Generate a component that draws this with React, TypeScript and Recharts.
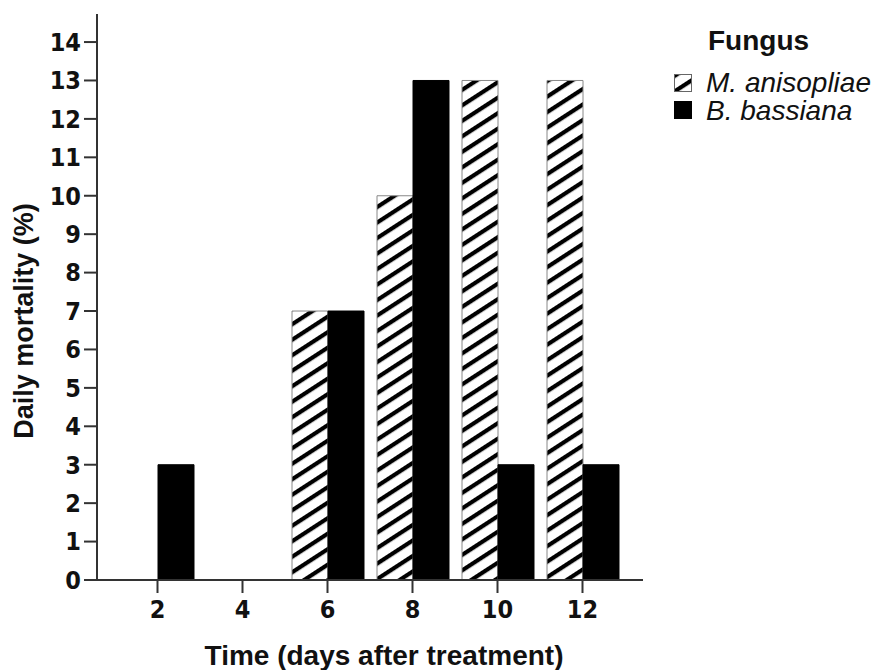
import React from "react"
import { BarChart, Bar, XAxis, YAxis } from "recharts"

const days = ["2", "4", "6", "8", "10", "12"]
const anisopliae = [0, 0, 7, 10, 13, 13]
const bassiana = [3, 0, 7, 13, 3, 3]
const yTicks = [0, 1, 2, 3, 4, 5, 6, 7, 8, 9, 10, 11, 12, 13, 14]

const data = days.map((day, i) => ({
  day,
  anisopliae: anisopliae[i],
  bassiana: bassiana[i],
}))

const font = "'Liberation Sans', Arial, sans-serif"
const narrow = "'Liberation Sans Narrow', 'Arial Narrow', 'DejaVu Sans Condensed', sans-serif"
const tickStyle = { fontFamily: narrow, fontWeight: 700, fontSize: 25, fill: "#111" }
const axisColor = "#333"

export default function App() {
  return (
    <div style={{ position: "absolute", left: 0, top: 0, width: 883, height: 670, background: "#fff" }}>
      <svg width={0} height={0} style={{ position: "absolute" }}>
        <defs>
          <pattern id="hatch" patternUnits="userSpaceOnUse" width={13} height={13} patternTransform="rotate(57)">
            <rect x={0} y={0} width={13} height={13} fill="#fff" />
            <rect x={0} y={0} width={4.2} height={13} fill="#000" />
          </pattern>
        </defs>
      </svg>
      <BarChart
        width={883}
        height={670}
        data={data}
        margin={{ top: 14, right: 240, bottom: 0, left: 37 }}
        barGap={0}
        barSize={36}
      >
        <XAxis
          dataKey="day"
          height={90}
          padding={{ left: 18, right: 18 }}
          tickSize={13}
          tickMargin={7}
          tick={tickStyle}
          axisLine={{ stroke: axisColor, strokeWidth: 2 }}
          tickLine={{ stroke: axisColor, strokeWidth: 2 }}
        />
        <XAxis xAxisId="top" dataKey="day" orientation="top" height={0} tick={false} tickLine={false}
          axisLine={{ stroke: axisColor, strokeWidth: 1.5 }} />
        <YAxis
          width={60}
          domain={[0, 14.73]}
          ticks={yTicks}
          allowDataOverflow
          tickSize={13}
          tickMargin={3}
          tick={tickStyle}
          axisLine={{ stroke: axisColor, strokeWidth: 2 }}
          tickLine={{ stroke: axisColor, strokeWidth: 2 }}
        />
        <YAxis yAxisId="right" orientation="right" width={0} tick={false} tickLine={false}
          axisLine={{ stroke: axisColor, strokeWidth: 1.5 }} />
        <Bar dataKey="anisopliae" fill="url(#hatch)" stroke="#888" strokeWidth={1} isAnimationActive={false} />
        <Bar dataKey="bassiana" fill="#000" stroke="#000" strokeWidth={1} isAnimationActive={false} />
      </BarChart>
      <svg width={883} height={670} style={{ position: "absolute", left: 0, top: 0, pointerEvents: "none" }}>
        <text x={33} y={321} transform="rotate(-90 33 321)" textAnchor="middle"
          style={{ fontFamily: font, fontWeight: 700, fontSize: 27, fill: "#111" }}>
          Daily mortality (%)
        </text>
        <text x={384} y={665} textAnchor="middle"
          style={{ fontFamily: font, fontWeight: 700, fontSize: 28, fill: "#111" }}>
          Time (days after treatment)
        </text>
        <text x={708} y={50} style={{ fontFamily: font, fontWeight: 700, fontSize: 28, fill: "#111" }}>
          Fungus
        </text>
        <rect x={674.5} y={74.5} width={17} height={17} fill="url(#hatch)" stroke="#666" strokeWidth={1} />
        <text x={706} y={92} style={{ fontFamily: font, fontStyle: "italic", fontSize: 28, fill: "#111" }}>
          M. anisopliae
        </text>
        <rect x={674.5} y={101.5} width={17} height={17} fill="#000" stroke="#000" strokeWidth={1} />
        <text x={706} y={120} style={{ fontFamily: font, fontStyle: "italic", fontSize: 28, fill: "#111" }}>
          B. bassiana
        </text>
      </svg>
    </div>
  )
}
